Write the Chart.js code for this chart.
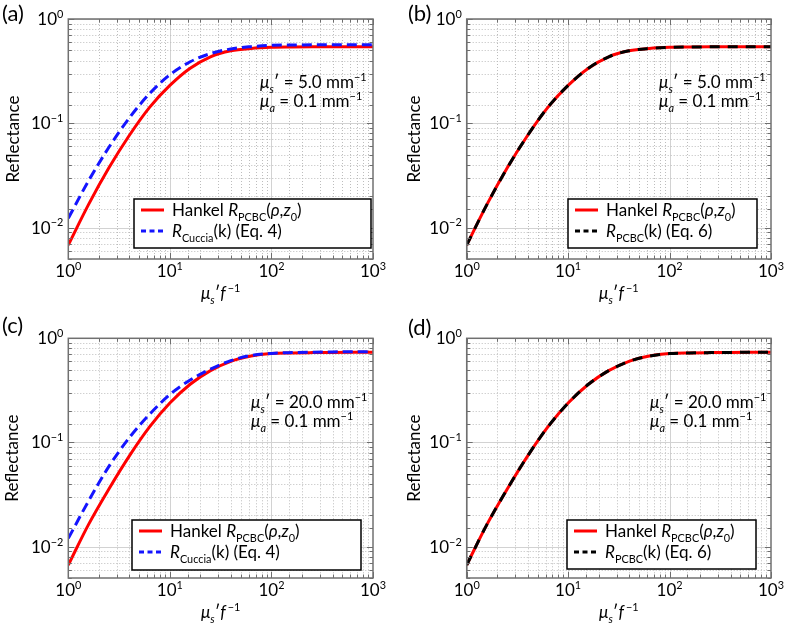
<!DOCTYPE html>
<html>
<head>
<meta charset="utf-8">
<script src="https://cdn.jsdelivr.net/npm/chart.js@4.4.0/dist/chart.umd.min.js"></script>
<style>
  body { margin: 0; background: #fff; width: 785px; height: 626px; position: relative; overflow: hidden; }
  canvas { position: absolute; left: 0; top: 0; }
</style>
</head>
<body>
<canvas id="pa" width="785" height="626"></canvas>
<canvas id="pb" width="785" height="626"></canvas>
<canvas id="pc" width="785" height="626"></canvas>
<canvas id="pd" width="785" height="626"></canvas>
<script>
// spatial frequency axis (mu_s' / f), sampled evenly in log space
const xVals = [1, 1.585, 2.512, 3.981, 6.31, 10, 15.85, 25.12, 39.81, 63.1, 100, 158.5, 251.2, 398.1, 631, 1000];

// mu_s' = 5.0 mm^-1
const hankelA = [0.00681, 0.0167, 0.0374, 0.0764, 0.1422, 0.2307, 0.3373, 0.4345, 0.4955, 0.5224, 0.5346, 0.5383, 0.5408, 0.5421, 0.5428, 0.5433];
const cucciaA = [0.0123, 0.0282, 0.0589, 0.1122, 0.1928, 0.2917, 0.389, 0.4656, 0.5164, 0.5433, 0.5598, 0.5630, 0.5650, 0.5662, 0.5670, 0.5675];
const pcbcA   = [0.00681, 0.0167, 0.0374, 0.0764, 0.1422, 0.2307, 0.3373, 0.4345, 0.4955, 0.5224, 0.5346, 0.5383, 0.5408, 0.5421, 0.5428, 0.5433];

// mu_s' = 20.0 mm^-1
const hankelC = [0.00667, 0.01637, 0.0358, 0.0740, 0.141, 0.239, 0.362, 0.489, 0.601, 0.675, 0.714, 0.724, 0.729, 0.732, 0.734, 0.735];
const cucciaC = [0.0120, 0.0275, 0.0589, 0.1109, 0.1862, 0.2884, 0.398, 0.507, 0.6095, 0.684, 0.716, 0.729, 0.736, 0.740, 0.743, 0.745];
const pcbcC   = [0.00667, 0.01637, 0.0358, 0.0740, 0.141, 0.239, 0.362, 0.489, 0.601, 0.675, 0.714, 0.724, 0.729, 0.732, 0.734, 0.735];

const FONT = 'Lato';
const RED = '#ff0000', BLUE = '#1414ff', BLACK = '#000000';

function isMajor(v) {
    const l = Math.log10(v);
    return Math.abs(l - Math.round(l)) < 1e-9;
}

// segs: {t, i (italic), sub, sup}
function richWidth(ctx, segs, size) {
    let w = 0;
    segs.forEach(s => {
        const sz = (s.sub || s.sup) ? size * 0.64 : size;
        ctx.font = (s.i ? 'italic ' : '') + sz + 'px ' + FONT;
        w += ctx.measureText(s.t).width;
    });
    return w;
}
function drawRich(ctx, segs, x, y, size, align) {
    const w = richWidth(ctx, segs, size);
    let cx = align === 'center' ? x - w / 2 : align === 'right' ? x - w : x;
    ctx.textAlign = 'left';
    ctx.textBaseline = 'alphabetic';
    segs.forEach(s => {
        const sz = (s.sub || s.sup) ? size * 0.64 : size;
        const dy = s.sub ? size * 0.28 : s.sup ? -size * 0.42 : 0;
        ctx.font = (s.i ? 'italic ' : '') + sz + 'px ' + FONT;
        ctx.fillText(s.t, cx, y + dy);
        cx += ctx.measureText(s.t).width;
    });
}
function powLabel(v) {
    const e = Math.round(Math.log10(v));
    return [{t: '10'}, {t: e < 0 ? '\u2212' + (-e) : String(e), sup: 1}];
}

function makeDecor(p) {
    return {
        id: 'decor',
        beforeDatasetsDraw(chart) {
            const ctx = chart.ctx, a = chart.chartArea;
            ctx.save();
            ctx.beginPath();
            ctx.rect(a.left, a.top, a.right - a.left, a.bottom - a.top);
            ctx.clip();
            ctx.lineWidth = 1;
            ['x', 'y'].forEach(dir => {
                const s = chart.scales[dir];
                s.ticks.forEach(t => {
                    const major = isMajor(t.value);
                    const px = Math.round(s.getPixelForValue(t.value)) + 0.5;
                    ctx.beginPath();
                    ctx.strokeStyle = major ? '#d2d2d2' : '#bdbdbd';
                    ctx.setLineDash(major ? [] : [1, 2]);
                    if (dir === 'x') { ctx.moveTo(px, a.top); ctx.lineTo(px, a.bottom); }
                    else { ctx.moveTo(a.left, px); ctx.lineTo(a.right, px); }
                    ctx.stroke();
                });
            });
            ctx.restore();
        },
        afterDraw(chart) {
            const ctx = chart.ctx, a = chart.chartArea;
            const xs = chart.scales.x, ys = chart.scales.y;
            ctx.save();
            ctx.setLineDash([]);
            // inward tick marks on all four sides
            ctx.strokeStyle = '#6e6e6e';
            ctx.lineWidth = 1;
            xs.ticks.forEach(t => {
                const len = isMajor(t.value) ? 6 : 3.5;
                const px = Math.round(xs.getPixelForValue(t.value)) + 0.5;
                ctx.beginPath();
                ctx.moveTo(px, a.bottom); ctx.lineTo(px, a.bottom - len);
                ctx.moveTo(px, a.top); ctx.lineTo(px, a.top + len);
                ctx.stroke();
            });
            ys.ticks.forEach(t => {
                const len = isMajor(t.value) ? 6 : 3.5;
                const py = Math.round(ys.getPixelForValue(t.value)) + 0.5;
                ctx.beginPath();
                ctx.moveTo(a.left, py); ctx.lineTo(a.left + len, py);
                ctx.moveTo(a.right, py); ctx.lineTo(a.right - len, py);
                ctx.stroke();
            });
            // frame
            ctx.strokeStyle = '#707070';
            ctx.lineWidth = 1.5;
            ctx.strokeRect(a.left, a.top, a.right - a.left, a.bottom - a.top);

            // tick labels
            ctx.fillStyle = '#000';
            xs.ticks.filter(t => isMajor(t.value)).forEach(t => {
                drawRich(ctx, powLabel(t.value), xs.getPixelForValue(t.value), a.bottom + 18, 17, 'center');
            });
            ys.ticks.filter(t => isMajor(t.value)).forEach(t => {
                drawRich(ctx, powLabel(t.value), a.left - 5, ys.getPixelForValue(t.value) + 6, 17, 'right');
            });

            // axis titles
            const cx = (a.left + a.right) / 2, cy = (a.top + a.bottom) / 2;
            drawRich(ctx, [{t: '\u03bc', i: 1}, {t: 's', i: 1, sub: 1}, {t: '\u2032'}, {t: 'f', i: 1}, {t: '\u2009'}, {t: '\u22121', sup: 1}],
                cx, a.bottom + 40, 17, 'center');
            ctx.save();
            ctx.translate(p.yTitleX, cy);
            ctx.rotate(-Math.PI / 2);
            ctx.font = '17px ' + FONT;
            ctx.textAlign = 'center';
            ctx.textBaseline = 'middle';
            ctx.fillText('Reflectance', 0, 0);
            ctx.restore();

            // panel tag
            ctx.font = '22px ' + FONT;
            ctx.textAlign = 'left';
            ctx.textBaseline = 'middle';
            ctx.fillText(p.tag, p.tagX, p.tagY);

            // parameter note
            drawRich(ctx, [{t: '\u03bc', i: 1}, {t: 's', i: 1, sub: 1}, {t: '\u2032 = ' + p.musp + ' mm'}, {t: '\u22121', sup: 1}],
                p.noteX, p.noteY, 17, 'left');
            drawRich(ctx, [{t: '\u03bc', i: 1}, {t: 'a', i: 1, sub: 1}, {t: ' = 0.1 mm'}, {t: '\u22121', sup: 1}],
                p.noteX, p.noteY + 19, 17, 'left');

            // legend
            const [l, t, r, b] = p.legend;
            ctx.fillStyle = '#fff';
            ctx.fillRect(l, t, r - l, b - t);
            ctx.strokeStyle = '#000';
            ctx.lineWidth = 1.5;
            ctx.strokeRect(l, t, r - l, b - t);
            const rows = [
                [{t: 'Hankel '}, {t: 'R', i: 1}, {t: 'PCBC', sub: 1}, {t: '('}, {t: '\u03c1', i: 1}, {t: ','}, {t: 'z', i: 1}, {t: '0', sub: 1}, {t: ')'}],
                p.second
            ];
            chart.data.datasets.forEach((ds, k) => {
                const y = t + 11 + k * 21;
                ctx.beginPath();
                ctx.strokeStyle = ds.borderColor;
                ctx.lineWidth = 3;
                ctx.setLineDash(ds.borderDash ? [5, 3.5] : []);
                ctx.moveTo(l + 7, y); ctx.lineTo(l + 30, y);
                ctx.stroke();
                ctx.setLineDash([]);
                ctx.fillStyle = '#000';
                drawRich(ctx, rows[k], l + 38, y + 6, 17, 'left');
            });
            ctx.restore();
        }
    };
}

const panels = [
    {id: 'pa', tag: '(a)', tagX: 2, tagY: 14, area: [68.3, 19, 373, 259], yTitleX: 14,
     musp: '5.0', noteX: 260, noteY: 88, legend: [134, 199, 371, 248],
     second: [{t: 'R', i: 1}, {t: 'Cuccia', sub: 1}, {t: '(k) (Eq. 4)'}],
     ref: hankelA, other: cucciaA, otherColor: BLUE, otherDash: [10, 5]},
    {id: 'pb', tag: '(b)', tagX: 408, tagY: 14, area: [466.7, 19, 771, 259], yTitleX: 415,
     musp: '5.0', noteX: 659, noteY: 88, legend: [568, 199, 757, 248],
     second: [{t: 'R', i: 1}, {t: 'PCBC', sub: 1}, {t: '(k) (Eq. 6)'}],
     ref: hankelA, other: pcbcA, otherColor: BLACK, otherDash: [10, 8]},
    {id: 'pc', tag: '(c)', tagX: 2, tagY: 326, area: [68.3, 338.3, 373, 578], yTitleX: 13,
     musp: '20.0', noteX: 251, noteY: 408, legend: [132, 520, 361, 570],
     second: [{t: 'R', i: 1}, {t: 'Cuccia', sub: 1}, {t: '(k) (Eq. 4)'}],
     ref: hankelC, other: cucciaC, otherColor: BLUE, otherDash: [10, 5]},
    {id: 'pd', tag: '(d)', tagX: 408, tagY: 328, area: [466.7, 338.3, 771, 578], yTitleX: 415,
     musp: '20.0', noteX: 650, noteY: 408, legend: [567, 520, 756, 569],
     second: [{t: 'R', i: 1}, {t: 'PCBC', sub: 1}, {t: '(k) (Eq. 6)'}],
     ref: hankelC, other: pcbcC, otherColor: BLACK, otherDash: [10, 8]}
];

const Y_AXIS_W = 40, X_AXIS_H = 30;

panels.forEach(p => {
    const [l, t, r, b] = p.area;
    new Chart(document.getElementById(p.id), {
        type: 'line',
        data: {
            labels: xVals,
            datasets: [
                {label: 'Hankel', data: xVals.map((x, i) => ({x: x, y: p.ref[i]})),
                 borderColor: RED, borderWidth: 3, pointRadius: 0, order: 2,
                 cubicInterpolationMode: 'monotone', fill: false},
                {label: 'k-space', data: xVals.map((x, i) => ({x: x, y: p.other[i]})),
                 borderColor: p.otherColor, borderWidth: 3, borderDash: p.otherDash, pointRadius: 0, order: 1,
                 cubicInterpolationMode: 'monotone', fill: false}
            ]
        },
        options: {
            responsive: false,
            animation: false,
            events: [],
            layout: {padding: {left: l - Y_AXIS_W, top: t, right: 785 - r, bottom: 626 - b - X_AXIS_H}},
            plugins: {legend: {display: false}, tooltip: {enabled: false}},
            scales: {
                x: {type: 'logarithmic', min: 1, max: 1000,
                    grid: {display: false}, border: {display: false},
                    ticks: {display: false, autoSkip: false},
                    afterFit: s => { s.height = X_AXIS_H; }},
                y: {type: 'logarithmic', min: 0.005, max: 1,
                    grid: {display: false}, border: {display: false},
                    ticks: {display: false, autoSkip: false},
                    afterFit: s => { s.width = Y_AXIS_W; }}
            }
        },
        plugins: [makeDecor(p)]
    });
});
</script>
</body>
</html>
